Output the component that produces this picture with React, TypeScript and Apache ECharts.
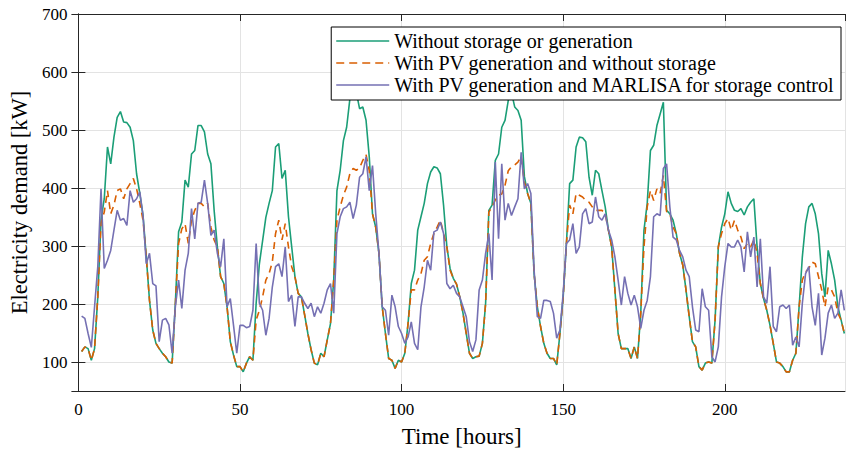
import React, { useEffect, useRef } from "react";
import * as echarts from "echarts";

// Hourly electricity demand [kW], hours 1..237
const withoutStorage = [
  119, 127, 124, 104, 124, 213, 345, 382, 471, 442,
  488, 522, 532, 514, 513, 505, 482, 425, 391, 353,
  282, 207, 156, 133, 124, 116, 110, 101, 99, 202,
  325, 342, 414, 402, 459, 465, 508, 508, 497, 459,
  442, 362, 299, 248, 236, 196, 136, 113, 93, 93,
  84, 99, 110, 104, 202, 270, 310, 350, 374, 396,
  471, 477, 417, 431, 351, 299, 248, 219, 213, 182,
  150, 122, 99, 96, 116, 110, 139, 167, 242, 396,
  431, 482, 505, 554, 575, 565, 537, 540, 517, 454,
  356, 333, 288, 196, 150, 107, 104, 90, 104, 101,
  116, 167, 236, 259, 328, 351, 374, 408, 428, 437,
  435, 425, 370, 300, 262, 245, 235, 213, 185, 150,
  116, 107, 110, 111, 133, 202, 362, 371, 448, 459,
  505, 517, 551, 565, 540, 534, 517, 420, 391, 374,
  253, 196, 162, 133, 116, 107, 107, 96, 150, 213,
  305, 408, 414, 471, 488, 487, 480, 419, 388, 431,
  425, 396, 368, 328, 299, 225, 150, 124, 124, 124,
  107, 127, 107, 185, 328, 374, 465, 474, 508, 528,
  548, 362, 356, 345, 322, 288, 268, 225, 179, 136,
  127, 93, 87, 99, 101, 99, 173, 299, 333, 356,
  394, 374, 362, 360, 365, 354, 368, 376, 382, 299,
  236, 210, 190, 164, 133, 101, 99, 93, 84, 84,
  104, 116, 196, 282, 339, 368, 374, 356, 322, 253,
  213, 293, 270, 242, 196, 173, 150,
];

const withPV = [
  119, 127, 124, 104, 124, 213, 340, 359, 396, 356,
  371, 396, 399, 382, 399, 408, 417, 399, 374, 345,
  282, 207, 156, 133, 124, 116, 110, 101, 99, 200,
  305, 330, 339, 305, 345, 362, 374, 374, 368, 374,
  333, 311, 299, 248, 236, 196, 136, 113, 93, 93,
  84, 99, 110, 104, 173, 190, 213, 242, 253, 273,
  322, 345, 311, 339, 299, 265, 248, 219, 213, 182,
  150, 122, 99, 96, 116, 110, 139, 167, 242, 345,
  368, 388, 402, 425, 434, 431, 435, 448, 458, 430,
  356, 333, 288, 196, 150, 107, 104, 90, 104, 101,
  116, 167, 225, 225, 242, 253, 276, 282, 305, 322,
  333, 345, 322, 299, 259, 245, 235, 213, 185, 150,
  116, 107, 110, 111, 133, 202, 359, 368, 380, 388,
  390, 405, 430, 437, 440, 445, 455, 410, 391, 374,
  253, 196, 162, 133, 116, 107, 107, 96, 150, 213,
  305, 371, 356, 391, 388, 385, 379, 376, 368, 362,
  362, 362, 356, 328, 299, 225, 150, 124, 124, 124,
  107, 127, 107, 185, 299, 368, 396, 379, 399, 391,
  422, 360, 356, 333, 322, 288, 268, 225, 179, 136,
  127, 93, 87, 99, 101, 99, 173, 299, 322, 339,
  348, 328, 345, 328, 316, 296, 305, 299, 311, 288,
  236, 210, 190, 164, 133, 101, 99, 93, 84, 84,
  104, 116, 196, 242, 256, 262, 273, 270, 248, 225,
  196, 230, 225, 213, 185, 173, 150,
];

const withMarlisa = [
  180, 176, 150, 126, 196, 265, 399, 262, 276, 293,
  328, 362, 345, 348, 336, 396, 376, 382, 394, 353,
  270, 288, 236, 232, 136, 173, 176, 165, 116, 196,
  242, 193, 259, 288, 365, 313, 374, 376, 414, 374,
  319, 328, 288, 265, 313, 196, 210, 164, 116, 164,
  164, 160, 162, 190, 305, 202, 190, 147, 176, 230,
  265, 270, 248, 299, 205, 216, 162, 213, 213, 202,
  193, 202, 179, 196, 185, 202, 225, 236, 185, 322,
  351, 365, 368, 376, 348, 371, 419, 425, 454, 396,
  439, 356, 288, 196, 190, 147, 216, 196, 162, 150,
  133, 144, 170, 133, 122, 196, 230, 276, 259, 325,
  328, 342, 322, 236, 227, 233, 219, 213, 196, 179,
  136, 119, 139, 225, 242, 288, 322, 242, 445, 313,
  442, 345, 374, 353, 368, 382, 462, 399, 408, 391,
  259, 179, 176, 207, 207, 205, 185, 142, 156, 219,
  305, 311, 339, 288, 299, 356, 365, 339, 342, 385,
  351, 345, 356, 328, 311, 282, 242, 199, 248, 219,
  199, 216, 196, 159, 190, 207, 248, 351, 356, 353,
  434, 442, 368, 316, 311, 293, 282, 259, 248, 196,
  156, 153, 227, 196, 190, 110, 101, 127, 213, 265,
  305, 299, 299, 311, 299, 256, 325, 282, 316, 230,
  313, 213, 202, 265, 162, 153, 196, 199, 193, 199,
  130, 144, 127, 202, 253, 265, 196, 164, 219, 113,
  142, 185, 199, 176, 185, 225, 190,
];

const seriesNames = [
  "Without storage or generation",
  "With PV generation and without storage",
  "With PV generation and MARLISA for storage control",
];
const seriesColors = ["#1b9e77", "#d95f02", "#7570b3"];

const FONT = "'Liberation Serif', 'DejaVu Serif', serif";

const SOLID_ICON = "path://M0,0h53v1.6h-53z";
const DASH_ICON =
  "path://M0,0h8v1.6h-8z M13,0h8v1.6h-8z M26,0h8v1.6h-8z M39,0h8v1.6h-8z M52,0h1v1.6h-1z";

function toPairs(vals: number[]) {
  return vals.map((v, i) => [i + 1, v]);
}

export default function App() {
  const ref = useRef<HTMLDivElement>(null);
  useEffect(() => {
    if (!ref.current) return;
    const chart = echarts.init(ref.current, undefined, { renderer: "svg" });
    const axisColor = "#262626";
    const gridColor = "#e3e3e3";
    const common = {
      axisLine: { show: true, lineStyle: { color: axisColor, width: 1 } },
      axisTick: { show: true, inside: true, length: 7, lineStyle: { color: axisColor } },
    };
    const xMin = 0;
    const xMax = 237.2;
    const yMin = 51;
    const yMax = 700;
    chart.setOption({
      animation: false,
      backgroundColor: "#ffffff",
      grid: { left: 75, right: 3, top: 14, bottom: 61.5, containLabel: false },
      legend: {
        orient: "vertical",
        right: 7,
        top: 27,
        itemWidth: 53,
        itemHeight: 2,
        itemGap: 2,
        padding: [4, 6, 5, 5],
        borderColor: "#000",
        borderWidth: 1,
        backgroundColor: "#fff",
        textStyle: { fontFamily: FONT, fontSize: 20, color: "#000" },
        data: [
          { name: seriesNames[0], icon: SOLID_ICON, itemStyle: { color: seriesColors[0] } },
          { name: seriesNames[1], icon: DASH_ICON, itemStyle: { color: seriesColors[1] } },
          { name: seriesNames[2], icon: SOLID_ICON, itemStyle: { color: seriesColors[2] } },
        ],
      },
      xAxis: [
        {
          type: "value",
          min: xMin,
          max: xMax,
          interval: 50,
          ...common,
          axisLabel: {
            show: true,
            showMaxLabel: false,
            margin: 10,
            fontFamily: FONT,
            fontSize: 17,
            color: "#000",
          },
          splitLine: { show: true, lineStyle: { color: gridColor, width: 1 } },
          name: "Time [hours]",
          nameLocation: "middle",
          nameGap: 34,
          nameTextStyle: { fontFamily: FONT, fontSize: 23, color: "#000" },
        },
        {
          type: "value",
          position: "top",
          min: xMin,
          max: xMax,
          interval: 50,
          ...common,
          axisLabel: { show: false },
          splitLine: { show: false },
        },
      ],
      yAxis: [
        {
          type: "value",
          min: yMin,
          max: yMax,
          splitNumber: 6,
          ...common,
          axisLabel: {
            show: true,
            showMinLabel: false,
            margin: 11,
            fontFamily: FONT,
            fontSize: 17,
            color: "#000",
          },
          splitLine: { show: true, lineStyle: { color: gridColor, width: 1 } },
          name: "Electricity demand [kW]",
          nameLocation: "middle",
          nameGap: 46,
          nameTextStyle: { fontFamily: FONT, fontSize: 22.5, color: "#000" },
        },
        {
          type: "value",
          position: "right",
          min: yMin,
          max: yMax,
          splitNumber: 6,
          ...common,
          axisLabel: { show: false },
          splitLine: { show: false },
        },
      ],
      series: [
        {
          name: seriesNames[0],
          type: "line",
          data: toPairs(withoutStorage),
          showSymbol: false,
          symbol: "none",
          lineStyle: { color: seriesColors[0], width: 1.6, type: "solid" },
          itemStyle: { color: seriesColors[0] },
          z: 2,
        },
        {
          name: seriesNames[1],
          type: "line",
          data: toPairs(withPV),
          showSymbol: false,
          symbol: "none",
          lineStyle: { color: seriesColors[1], width: 1.6, type: [7, 5] },
          itemStyle: { color: seriesColors[1] },
          z: 3,
        },
        {
          name: seriesNames[2],
          type: "line",
          data: toPairs(withMarlisa),
          showSymbol: false,
          symbol: "none",
          lineStyle: { color: seriesColors[2], width: 1.6, type: "solid" },
          itemStyle: { color: seriesColors[2] },
          z: 4,
        },
      ],
    });
    return () => chart.dispose();
  }, []);
  return <div ref={ref} style={{ width: 848, height: 453, position: "absolute", left: 0, top: 0 }} />;
}
